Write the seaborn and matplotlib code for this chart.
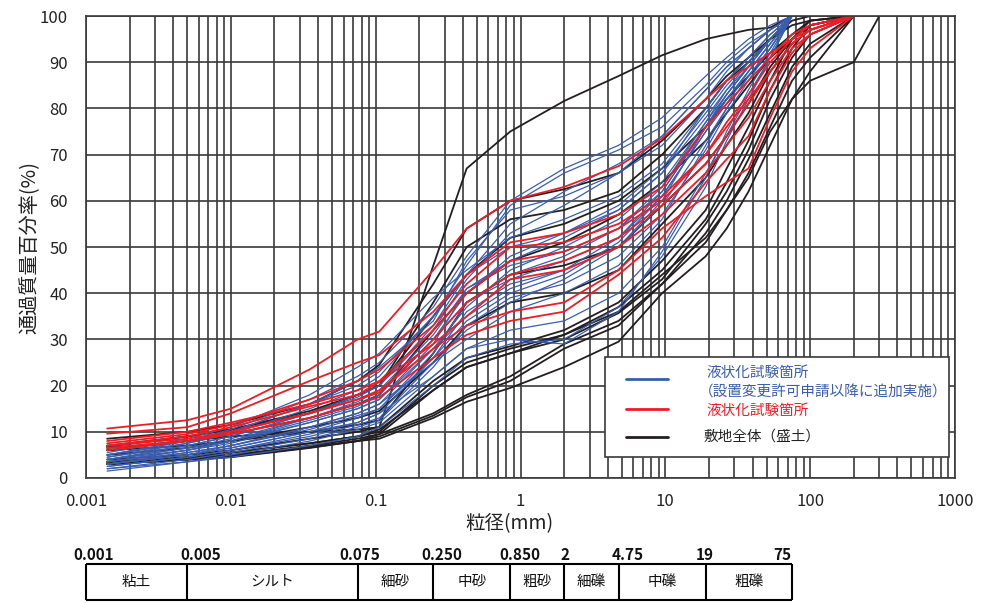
import numpy as np
import pandas as pd
import matplotlib
matplotlib.use("Agg")
import matplotlib.pyplot as plt
import seaborn as sns
from matplotlib.ticker import FixedLocator, FixedFormatter, LogLocator, NullFormatter
from matplotlib.patches import Rectangle
from matplotlib.lines import Line2D
from matplotlib.transforms import offset_copy

# ---------------- data ----------------
sizes_mm = [0.0014, 0.005, 0.01, 0.035, 0.075, 0.106, 0.25, 0.425, 0.85, 2, 4.75,
            9.5, 19, 26.5, 37.5, 53, 75, 100, 200, 300]

# 液状化試験箇所（設置変更許可申請以降に追加実施）
blue_pass = [
    [5.0, 8.0, 10.5, 17, 22, 25, 37, 48, 60, 67, 72, 78, 87, 91, 95, 98, 100],
    [4.5, 7.5, 10, 16, 20, 23, 35, 46, 59, 66, 71, 76, 85, 90, 94, 97, 100],
    [4.0, 7.0, 9, 14, 18, 20, 32, 43, 53, 59, 66, 74, 84, 89, 93, 97, 100],
    [5.5, 8.5, 11, 18, 24, 27, 39, 45, 52, 56, 61, 68, 80, 86, 91, 96, 100],
    [3.5, 6, 8, 13, 16, 18, 30, 40, 48, 53, 59, 67, 79, 85, 90, 95, 100],
    [3, 5.5, 7, 11, 14, 16, 28, 37, 45, 50, 56, 64, 77, 84, 89, 95, 100],
    [4, 6.5, 8.5, 13, 16.5, 19, 31, 41, 46, 49, 54, 62, 76, 82, 88, 94, 100],
    [2.5, 4.5, 6, 9.5, 12, 14, 26, 36, 42, 45, 50, 59, 73, 80, 87, 93, 100],
    [3, 5, 6.5, 10, 13, 15, 27, 38, 43, 47, 52, 61, 75, 81, 88, 94, 100],
    [2, 4, 5.5, 8.5, 11, 12.5, 24, 33, 39, 42, 48, 57, 71, 79, 86, 93, 100],
    [4.5, 7, 9, 14, 17.5, 20, 33, 44, 50, 53, 58, 66, 78, 84, 90, 95, 100],
    [3.5, 6, 7.5, 12, 15, 17, 29, 41, 47, 52, 58, 66, 80, 86, 91, 96, 100],
    [5, 7.5, 9.5, 15, 19, 22, 35, 44, 55, 62, 68, 74, 84, 89, 93, 97, 100],
    [2.5, 4.5, 6, 9, 11.5, 13, 25, 30, 36, 40, 46, 56, 72, 80, 87, 93, 100],
    [3, 5, 6.5, 10, 12, 14, 22, 28, 32, 34, 40, 50, 66, 74, 83, 91, 100],
    [2, 3.5, 4.5, 7, 9, 11, 20, 26, 29, 30, 37, 48, 63, 73, 82, 91, 100],
    [3.5, 5.5, 7, 11, 14, 16, 25, 32, 38, 43, 50, 60, 76, 83, 89, 95, 100],
    [4, 6.5, 8, 12.5, 15.5, 18, 30, 38, 44, 48, 54, 63, 77, 83, 89, 95, 100],
    [1.5, 3.5, 5, 8, 10.5, 12, 22, 28, 30, 29, 36, 49, 65, 75, 84, 92, 100],
    [5, 8, 10, 16, 21, 24, 34, 47, 58, 61, 66, 72, 82, 88, 93, 97, 100],
    [3, 5, 7, 10.5, 13.5, 15, 26, 34, 40, 44, 51, 61, 75, 82, 88, 94, 100],
    [4, 6, 8, 12, 15, 17, 28, 35, 41, 45, 52, 62, 76, 83, 89, 95, 100],
]

# 液状化試験箇所
red_pass = [
    [10.7, 12.5, 15, 23.5, 30, 31.7, 45, 54, 60, 63, 67.5, 73.5, 82, 86, 89, 92, 95, 97, 100],
    [9.6, 11, 14, 21, 25, 26.6, 36, 44, 51, 53, 57, 63, 76, 81, 86, 91, 96, 98, 100],
    [7.5, 9.5, 11.5, 17, 21, 23.5, 33, 42, 50, 51, 55, 61, 70, 76, 82, 88, 94, 97, 100],
    [7, 9, 11, 15.5, 18, 20.8, 29, 35, 43, 45, 50, 57, 66, 72, 78, 86, 93, 96, 100],
    [6, 8, 10, 14, 17, 19, 28, 33, 36, 38, 45, 54, 61, 64, 67, 78, 88, 93, 100],
    [6.5, 8, 9.5, 13, 16, 17.5, 26, 31, 34, 36, 44, 52, 64, 69, 74, 84, 92, 96, 100],
    [8, 10, 12, 16, 19, 21, 32, 40, 47, 49, 54, 60, 70, 77, 83, 90, 95, 98, 100],
    [7, 8.5, 10, 14, 17, 18.5, 30, 38, 44, 47, 52, 59, 68, 74, 81, 88, 94, 97, 100],
]

# 敷地全体（盛土）
black_pass = [
    [6.5, 8, 9, 10, 10.5, 11, 46, 67, 75, 81.6, 87, 91.5, 95, 96, 97, 97.5, 100],
    [8.5, 10, 11.5, 16, 21, 24.5, 42, 54, 60, 62.5, 66, 73, 82, 87, 91, 95, 98, 99, 100],
    [6.8, 9, 10.5, 14, 18, 20, 35, 44, 52, 55, 60, 67, 76, 82, 87, 92, 96, 99, 100],
    [6, 8, 9.5, 13, 16, 18, 32, 40, 47, 51, 57, 64, 73, 79, 85, 91, 95, 98, 100],
    [6, 7, 8, 10, 11.5, 12.5, 27, 38, 44, 46, 50, 59, 68, 74, 81, 89, 95, 98, 100],
    [3, 4, 4.5, 6.5, 8, 8.5, 13, 16.5, 19.5, 24, 29.5, 40, 48, 54, 62, 72, 82, 88, 100],
    [3, 4, 4.6, 6.6, 8, 9, 13.5, 17.5, 21, 28, 33, 42, 51, 58, 66, 76, 86, 91, 100],
    [3.2, 4.2, 5, 7, 8.5, 9.5, 14, 18, 22, 29, 34, 42, 53, 60, 69, 79, 89, 94, 100],
    [3, 4, 4.8, 6.8, 8, 9.5, 19, 24, 27, 30, 35.7, 43, 55, 62, 71, 82, 91, 96, 100],
    [3.5, 4.5, 5.5, 7.5, 9, 10, 20, 25, 28, 31, 37, 45, 56, 64, 73, 84, 93, 98, 100],
    [4, 5, 6, 8.5, 10, 11, 21, 26, 28.5, 32, 38, 47, 58, 67, 76, 86, 95, 99, 100],
    [3.5, 4.5, 5.5, 7.5, 9, 10.5, 19, 24, 27, 31, 36, 44, 52, 58, 65, 75, 82, 86, 90, 100],
    [5, 6.5, 8, 11, 13, 14.5, 25, 33, 38, 40, 45, 55, 65, 72, 79, 88, 94, 97, 100],
    [7, 9, 10.5, 14.5, 18, 20, 38, 50, 56, 58, 62, 70, 80, 86, 90, 95, 99, 100],
]

x_ticks = [0.001, 0.01, 0.1, 1, 10, 100, 1000]
x_tick_labels = ["0.001", "0.01", "0.1", "1", "10", "100", "1000"]
y_ticks = list(range(0, 101, 10))

class_bounds = [0.001, 0.005, 0.075, 0.25, 0.85, 2, 4.75, 19, 75]
class_bound_labels = ["0.001", "0.005", "0.075", "0.250", "0.850", "2", "4.75", "19", "75"]
class_names = ["粘土", "シルト", "細砂", "中砂", "粗砂", "細礫", "中礫", "粗礫"]
# horizontal nudges (pixels) of the boundary labels, as placed in the reference
bound_label_nudge_px = [8, 14, 2, 9, 10, 1, 9, -1, -10]

legend_labels = ["液状化試験箇所", "（設置変更許可申請以降に追加実施）", "液状化試験箇所", "敷地全体（盛土）"]

COL_BLUE = "#3a5dae"
COL_RED = "#ee1c25"
COL_BLACK = "#231f20"
GRID = "#3a3a3a"


def to_long(rows, group):
    recs = []
    for i, row in enumerate(rows):
        for s, v in zip(sizes_mm, row):
            recs.append({"group": group, "curve": f"{group}{i}", "size": s, "pass": v})
    return pd.DataFrame(recs)


df = pd.concat([to_long(blue_pass, "blue"), to_long(red_pass, "red"),
                to_long(black_pass, "black")], ignore_index=True)

# ---------------- figure ----------------
sns.set_style("white")
plt.rcParams["font.family"] = ["Noto Sans CJK JP", "DejaVu Sans"]

W, H = 981, 603
fig = plt.figure(figsize=(W / 100, H / 100), dpi=100)


def fx(x):
    return x / W


def fy(y):
    return 1 - y / H


L, R, T, B = 86, 955, 16, 478
ax = fig.add_axes([fx(L), fy(B), (R - L) / W, (B - T) / H])

styles = [("black", COL_BLACK, 1.3), ("blue", COL_BLUE, 0.9), ("red", COL_RED, 1.3)]
for g, c, lw in styles:
    sns.lineplot(data=df[df["group"] == g], x="size", y="pass", units="curve",
                 estimator=None, color=c, linewidth=lw, ax=ax, legend=False, sort=True)

ax.set_xscale("log")
ax.set_xlim(0.001, 1000)
ax.set_ylim(0, 100)
ax.xaxis.set_major_locator(FixedLocator(x_ticks))
ax.xaxis.set_major_formatter(FixedFormatter(x_tick_labels))
ax.xaxis.set_minor_locator(LogLocator(base=10, subs=np.arange(2, 10), numticks=100))
ax.xaxis.set_minor_formatter(NullFormatter())
ax.set_yticks(y_ticks)
ax.set_yticklabels([str(v) for v in y_ticks])
ax.set_axisbelow(True)
ax.grid(True, which="both", axis="x", color=GRID, linewidth=1.2)
ax.grid(True, which="major", axis="y", color=GRID, linewidth=1.2)
ax.tick_params(axis="both", which="both", length=0, labelsize=12, colors="#222222")
ax.tick_params(axis="y", pad=13)
ax.tick_params(axis="x", pad=11)
for sp in ax.spines.values():
    sp.set_color(GRID)
    sp.set_linewidth(1.2)

ax.set_xlabel("粒径(mm)", fontsize=14, color="#222222")
ax.set_ylabel("通過質量百分率(%)", fontsize=14.5, color="#222222")
ax.xaxis.set_label_coords((509 - L) / (R - L), (B - 513) / (B - T))
ax.yaxis.set_label_coords((41 - L) / (R - L), 0.5)

# ---------------- legend (drawn manually) ----------------
fig.patches.append(Rectangle((fx(605), fy(457)), (949 - 605) / W, (457 - 357) / H,
                             transform=fig.transFigure, facecolor="white",
                             edgecolor=GRID, linewidth=1.2, zorder=5))
for y, c in [(379, COL_BLUE), (409, COL_RED), (437, COL_BLACK)]:
    fig.lines.append(Line2D([fx(626), fx(668)], [fy(y), fy(y)], transform=fig.transFigure,
                            color=c, linewidth=2.0, zorder=6))
fs_leg = 10.5
fig.text(fx(706), fy(373), legend_labels[0], color=COL_BLUE, fontsize=fs_leg, va="center", zorder=6)
fig.text(fx(699), fy(393), legend_labels[1], color=COL_BLUE, fontsize=fs_leg, va="center", zorder=6)
fig.text(fx(706), fy(411), legend_labels[2], color=COL_RED, fontsize=fs_leg, va="center", zorder=6)
fig.text(fx(703), fy(437), legend_labels[3], color="#222222", fontsize=fs_leg, va="center", zorder=6)

# ---------------- soil classification table ----------------
tb_top, tb_bot = 564, 600
ax2 = fig.add_axes([fx(L), fy(tb_bot), (R - L) / W, (tb_bot - tb_top) / H])
ax2.set_xscale("log")
ax2.set_xlim(0.001, 1000)
ax2.set_ylim(0, 1)
ax2.axis("off")
ax2.hlines([0, 1], class_bounds[0], class_bounds[-1], color="black", linewidth=1.5, clip_on=False)
ax2.vlines(class_bounds, 0, 1, color="black", linewidth=1.5, clip_on=False)
for lo, hi, name in zip(class_bounds[:-1], class_bounds[1:], class_names):
    ax2.text(np.sqrt(lo * hi), 0.5, name, ha="center", va="center", fontsize=10.5,
             color="#111111")
for b, lab, nud in zip(class_bounds, class_bound_labels, bound_label_nudge_px):
    tr = offset_copy(ax2.transData, fig=fig, x=nud, y=0, units="dots")
    ax2.text(b, 1.0 + 9 / (tb_bot - tb_top), lab, ha="center", va="center", fontsize=11,
             fontweight="bold", color="#111111", transform=tr, clip_on=False)

fig.savefig("out.png", dpi=100, facecolor="white")
